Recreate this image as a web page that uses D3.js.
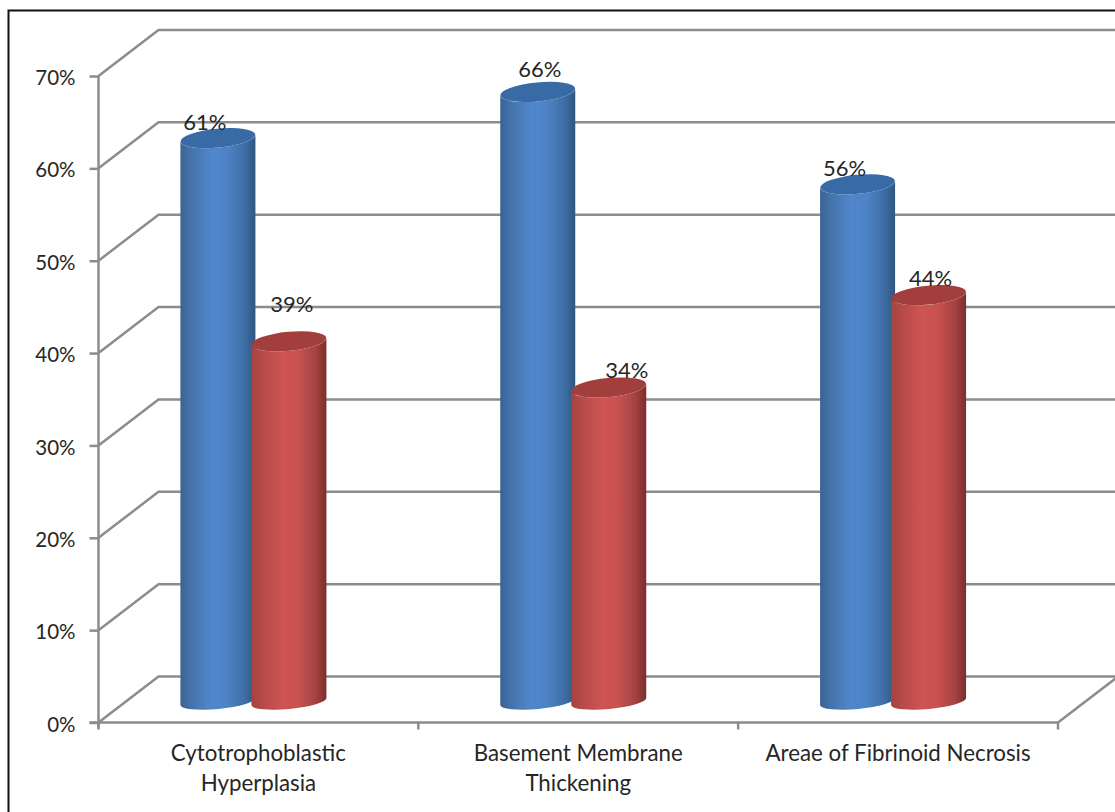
<!DOCTYPE html>
<html>
<head>
<meta charset="utf-8">
<script src="https://cdnjs.cloudflare.com/ajax/libs/d3/7.8.5/d3.min.js"></script>
<style>
html,body{margin:0;padding:0;background:#fff;overflow:hidden}
svg{display:block}
text{font-family:Lato,"Open Sans",sans-serif;fill:#262626}
</style>
</head>
<body>
<script>
// Chart data
const categories = ["Cytotrophoblastic Hyperplasia", "Basement Membrane Thickening", "Areae of Fibrinoid Necrosis"];
const categoryLines = [["Cytotrophoblastic", "Hyperplasia"], ["Basement Membrane", "Thickening"], ["Areae of Fibrinoid Necrosis"]];
const seriesNames = ["blue", "red"];
const blueValues = [61, 66, 56];
const redValues = [39, 34, 44];
const yTicks = [0, 10, 20, 30, 40, 50, 60, 70];

// Hand placement of the value labels relative to each cylinder top
const blueLabelShift = [[-13, -16], [2, -23], [-13, -16]];
const redLabelShift = [[3, -37], [18, -17], [2, -17]];

const W = 1115, H = 812;
const depthX = 60, depthY = 46;
const radiusX = 37.5, capRadiusY = 9.5, baseRadiusY = 7.5, tilt = 0.094;
const floorLift = 21;

const svg = d3.select("body").append("svg").attr("width", W).attr("height", H);

const y = d3.scaleLinear().domain([0, 70]).range([722.5, 76]);
const x = d3.scaleBand().domain(categories).range([98.5, 1058]);
const seriesX = d3.scalePoint().domain(seriesNames).range([-40.5, 30.5]);

// Cylinder side shading, darkest at the edges
const defs = svg.append("defs");
function sideGradient(id, stops) {
  defs.append("linearGradient").attr("id", id)
    .selectAll("stop").data(stops).join("stop")
    .attr("offset", d => d[0]).attr("stop-color", d => d[1]);
}
sideGradient("blueSide", [[0, "#3b6394"], [0.14, "#4672aa"], [0.42, "#5087cc"], [0.62, "#4d83c5"], [0.85, "#3f6ea6"], [1, "#30567f"]]);
sideGradient("redSide", [[0, "#a24341"], [0.14, "#b64a48"], [0.42, "#cd5553"], [0.62, "#c85250"], [0.85, "#a54341"], [1, "#7b2e2c"]]);

// Outer frame: only the top and left edges fall inside the page
svg.append("path").attr("d", `M8.5,${H}V10.5H${W}`)
  .attr("fill", "none").attr("stroke", "#111").attr("stroke-width", 2);

const gridColor = "#8c8c8c";
const gridWidth = 2.5;

// Walls and floor gridlines
const grid = svg.append("g").attr("fill", "none").attr("stroke", gridColor).attr("stroke-width", gridWidth);
grid.selectAll("path").data(yTicks).join("path")
  .attr("d", t => `M${x.range()[0]},${y(t)}L${x.range()[0] + depthX},${y(t) - depthY}H${W}`);
grid.append("path")
  .attr("d", `M${x.range()[1]},${y(0)}L${x.range()[1] + depthX},${y(0) - depthY}`);

// Value axis
const yAxis = d3.axisLeft(y).tickValues(yTicks).tickFormat(d => d + "%").tickSize(9).tickPadding(14);
const yG = svg.append("g").attr("transform", `translate(${x.range()[0]},0)`).call(yAxis);
yG.selectAll("line, path").attr("stroke", gridColor).attr("stroke-width", gridWidth);
yG.select("path").attr("d", `M0,${y(70)}V${y(0) + 6}`);
yG.selectAll("text").attr("font-size", 20.5).attr("font-family", "Lato").attr("fill", "#262626")
  .attr("dy", "0.42em");

// Category axis line, ticks at the band boundaries
svg.append("line")
  .attr("x1", x.range()[0] - 9).attr("x2", x.range()[1])
  .attr("y1", y(0)).attr("y2", y(0))
  .attr("stroke", gridColor).attr("stroke-width", gridWidth);
svg.append("g").selectAll("line").data(d3.range(categories.length + 1)).join("line")
  .attr("x1", i => x.range()[0] + i * x.step()).attr("x2", i => x.range()[0] + i * x.step())
  .attr("y1", y(0)).attr("y2", y(0) + 7)
  .attr("stroke", gridColor).attr("stroke-width", gridWidth);

const catText = svg.append("g").selectAll("text").data(categories).join("text")
  .attr("text-anchor", "middle").attr("font-size", 22.3);
catText.selectAll("tspan").data((d, i) => categoryLines[i]).join("tspan")
  .attr("y", (d, i) => 761 + i * 30)
  .attr("x", function () { return x(this.parentNode.__data__) + x.bandwidth() / 2; })
  .text(d => d);

// Point on a tilted ellipse end: left (-1) or right (+1)
function rim(cx, cy, side) {
  return [cx + side * radiusX, cy - side * radiusX * tilt];
}
const tiltDeg = -Math.atan(tilt) * 180 / Math.PI;

function drawCylinder(g, cx, value, side, cap) {
  const topY = y(value) - floorLift;
  const baseY = y(0) - floorLift;
  const [lx, lyT] = rim(cx, topY, -1), [rx, ryT] = rim(cx, topY, 1);
  const [, lyB] = rim(cx, baseY, -1), [, ryB] = rim(cx, baseY, 1);
  g.append("path")
    .attr("d", `M${lx},${lyT}L${lx},${lyB}` +
      `A${radiusX},${baseRadiusY} ${tiltDeg} 0 0 ${rx},${ryB}` +
      `L${rx},${ryT}` +
      `A${radiusX},${capRadiusY} ${tiltDeg} 0 1 ${lx},${lyT}Z`)
    .attr("fill", `url(#${side})`);
  g.append("ellipse")
    .attr("cx", cx).attr("cy", topY)
    .attr("rx", radiusX).attr("ry", capRadiusY)
    .attr("transform", `rotate(${tiltDeg} ${cx} ${topY})`)
    .attr("fill", cap);
}

const bars = svg.append("g");
categories.forEach((c, i) => {
  const centre = x(c) + x.bandwidth() / 2;
  const bx = centre + seriesX("blue"), rx = centre + seriesX("red");
  const label = (px, v, shift) => bars.append("text")
    .attr("x", px + shift[0]).attr("y", y(v) - floorLift + shift[1])
    .attr("text-anchor", "middle").attr("dy", "0.35em")
    .attr("font-size", 22).text(v + "%");
  drawCylinder(bars, bx, blueValues[i], "blueSide", "#386ba6");
  drawCylinder(bars, rx, redValues[i], "redSide", "#a23e3c");
  label(bx, blueValues[i], blueLabelShift[i]);
  label(rx, redValues[i], redLabelShift[i]);
});
</script>
</body>
</html>
